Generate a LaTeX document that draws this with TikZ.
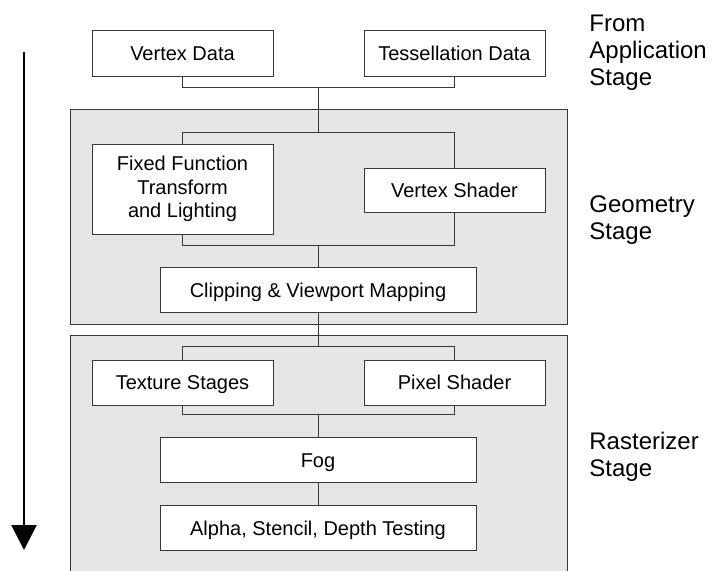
\documentclass[tikz,border=0pt]{standalone}
\usepackage{fontspec}
\setmainfont{Liberation Sans}
\usetikzlibrary{positioning,backgrounds,arrows.meta}
\definecolor{stagegray}{RGB}{230,230,230}
\definecolor{linegray}{RGB}{55,55,55}

\begin{document}
\begin{tikzpicture}[
  x=0.5pt, y=-0.5pt,
  every node/.style={font=\fontsize{10}{11.75}\selectfont},
  box/.style={draw=linegray, fill=white, line width=0.5pt, minimum width=90.5pt, minimum height=23pt, align=center, inner sep=2pt},
  oneline/.style={box, text height=7.4pt, text depth=0.2pt},
  wide/.style={oneline, minimum width=158pt, minimum height=22.5pt},
  stage/.style={draw=linegray, fill=stagegray, line width=0.5pt},
  stagetext/.style={anchor=north west, inner sep=0pt, align=left, font=\fontsize{12}{13.5}\selectfont},
  link/.style={draw=linegray, line width=0.5pt},
  flow/.style={-{Triangle[width=12.5pt,length=12.5pt]}, line width=1.3pt}
]
\useasboundingbox (0,0) rectangle (712,570);

% junctions of the connectors
\coordinate (jtop) at (318,87);
\coordinate (jgeo) at (318,132);
\coordinate (jclip) at (318,245);
\coordinate (jras) at (318,346);
\coordinate (jfog) at (318,414);

\node[oneline] (vdata) at (182.5,53) {Vertex Data};
\node[oneline, right=45pt of vdata] (tdata) {Tessellation Data};

\node[box, minimum height=45pt, below=33.5pt of vdata] (ffunc) {Fixed Function\\Transform\\and Lighting};
\node[oneline, minimum height=22pt, below=45.5pt of tdata] (vshader) {Vertex Shader};
\node[wide, below=11pt of jclip] (clip) {Clipping \& Viewport Mapping};

\node[oneline, minimum height=22.5pt, below=62.5pt of ffunc] (tex) {Texture Stages};
\node[oneline, minimum height=22.5pt, below=73.5pt of vshader] (pshader) {Pixel Shader};
\node[wide, below=11.5pt of jfog] (fog) {Fog};
\node[wide, below=11pt of fog] (alpha) {Alpha, Stencil, Depth Testing};

\node[stagetext] (appstage) at (589,15) {From\\Application\\Stage};
\node[stagetext] (geostage) at (589,195) {Geometry\\Stage};
\node[stagetext] (rasstage) at (589,432) {Rasterizer\\Stage};

\begin{scope}[on background layer]
\draw[stage] (70,109) rectangle (567,324);
\draw[stage] (70,335) rectangle (567,572);
\end{scope}

\draw[link] (vdata) |- (jtop) -| (tdata);
\draw[link] (jtop) -- (jgeo);
\draw[link] (ffunc) |- (jgeo) -| (vshader);
\draw[link] (ffunc) |- (jclip) -| (vshader);
\draw[link] (jclip) -- (clip);
\draw[link] (clip) -- (jras);
\draw[link] (tex) |- (jras) -| (pshader);
\draw[link] (tex) |- (jfog) -| (pshader);
\draw[link] (jfog) -- (fog);
\draw[link] (fog) -- (alpha);

\coordinate (flowtop) at (24,52);
\coordinate (flowend) at (24,550);
\draw[flow] (flowtop) -- (flowend);

\end{tikzpicture}
\end{document}
